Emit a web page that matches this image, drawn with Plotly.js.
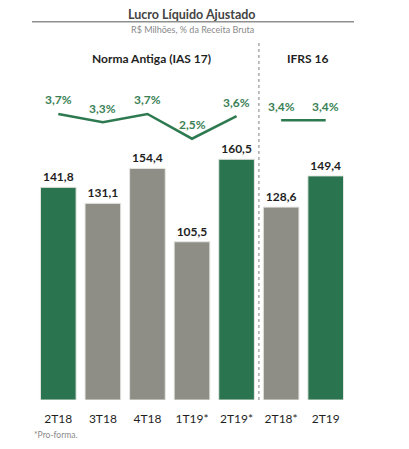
<!DOCTYPE html>
<html><head><meta charset="utf-8">
<script src="https://cdn.plot.ly/plotly-3.0.1.min.js"></script>
<style>html,body{margin:0;padding:0;background:#fff}#c{width:409px;height:449px}</style>
</head><body><div id="c"></div>
<script>
var categories = ["2T18","3T18","4T18","1T19*","2T19*","2T18*","2T19"];
var lucro = [141.8,131.1,154.4,105.5,160.5,128.6,149.4];
var barColors = ["#2a7550","#8f8e86","#8f8e86","#8f8e86","#2a7550","#8f8e86","#2a7550"];
var margemAntigaCats = ["2T18","3T18","4T18","1T19*","2T19*"];
var margemAntiga = [3.7,3.3,3.7,2.5,3.6];
var margemIfrsCats = ["2T18*","2T19"];
var margemIfrs = [3.4,3.4];
var fmt = function(v,d){return v.toFixed(d).replace('.',',');};

var F = "Lato, 'Open Sans', sans-serif";
var traces = [
 {type:'bar', x:categories, y:lucro, marker:{color:barColors, line:{color:'#e6e6e2', width:1}}, width:0.8,
  text:lucro.map(function(v){return fmt(v,1);}), textposition:'outside', cliponaxis:false,
  textfont:{family:F, size:12, color:'#1f1f1f', weight:'bold'}, hoverinfo:'none'},
 {type:'scatter', mode:'lines', x:margemAntigaCats, y:margemAntiga, yaxis:'y2',
  line:{color:'#2e7a50', width:2.5}, hoverinfo:'none'},
 {type:'scatter', mode:'lines', x:margemIfrsCats, y:margemIfrs, yaxis:'y2',
  line:{color:'#2e7a50', width:2.5}, hoverinfo:'none'}
];
var anns = [
  {xref:'paper', yref:'paper', x:(192-36)/312, y:(400-14.3)/360, text:'<b>Lucro Líquido Ajustado</b>', showarrow:false, font:{family:F, size:12.5, color:'#444'}, xanchor:'center', yanchor:'middle'},
  {xref:'paper', yref:'paper', x:(192-36)/312, y:(400-29.5)/360, text:'R$ Milhões, % da Receita Bruta', showarrow:false, font:{family:F, size:9, color:'#8a8a8a'}, xanchor:'center', yanchor:'middle'},
  {xref:'paper', yref:'paper', x:(151-36)/312, y:(400-58.7)/360, text:'<b>Norma Antiga (IAS 17)</b>', showarrow:false, font:{family:F, size:12, color:'#1f1f1f'}, xanchor:'center', yanchor:'middle'},
  {xref:'paper', yref:'paper', x:(308-36)/312, y:(400-58.7)/360, text:'<b>IFRS 16</b>', showarrow:false, font:{family:F, size:12, color:'#1f1f1f'}, xanchor:'center', yanchor:'middle'},
  {xref:'paper', yref:'paper', x:(32-36)/312, y:(400-435)/360, text:'*Pro-forma.', showarrow:false, font:{family:F, size:8.5, color:'#8a8a8a'}, xanchor:'left', yanchor:'middle'}
];
function addLabels(cats, vals){
  cats.forEach(function(c,i){
    anns.push({xref:'x', yref:'y2', x:c, y:vals[i], text:'<b>'+fmt(vals[i],1)+'%</b>', showarrow:false,
      yshift:14, xanchor:'center', yanchor:'middle', font:{family:F, size:12, color:'#3a7f55'}});
  });
}
addLabels(margemAntigaCats, margemAntiga);
addLabels(margemIfrsCats, margemIfrs);

var layout = {
 width:409, height:449, margin:{l:36, r:61, t:40, b:49},
 paper_bgcolor:'#fff', plot_bgcolor:'#fff', showlegend:false, bargap:0.2,
 font:{family:F},
 xaxis:{type:'category', categoryorder:'array', categoryarray:categories, range:[-0.5,6.5],
  showgrid:false, zeroline:false, showline:false, ticks:'', ticklen:0, ticklabelstandoff:10,
  tickfont:{family:F, size:12, color:'#1f1f1f'}, fixedrange:true},
 yaxis:{range:[0,240], visible:false, fixedrange:true},
 yaxis2:{range:[-10.18,7.29], overlaying:'y', visible:false, fixedrange:true},
 shapes:[
  {type:'line', xref:'x', yref:'paper', x0:4.5, x1:4.5, y0:0, y1:0.995, line:{color:'#aaaaaa', width:1.5, dash:'dot'}},
  {type:'line', xref:'paper', yref:'paper', x0:(32-36)/312, x1:(354-36)/312, y0:(400-21.7)/360, y1:(400-21.7)/360, line:{color:'#8f8f8f', width:1.5}}
 ],
 annotations:anns
};
Plotly.newPlot('c', traces, layout, {displayModeBar:false, staticPlot:true});
</script></body></html>
